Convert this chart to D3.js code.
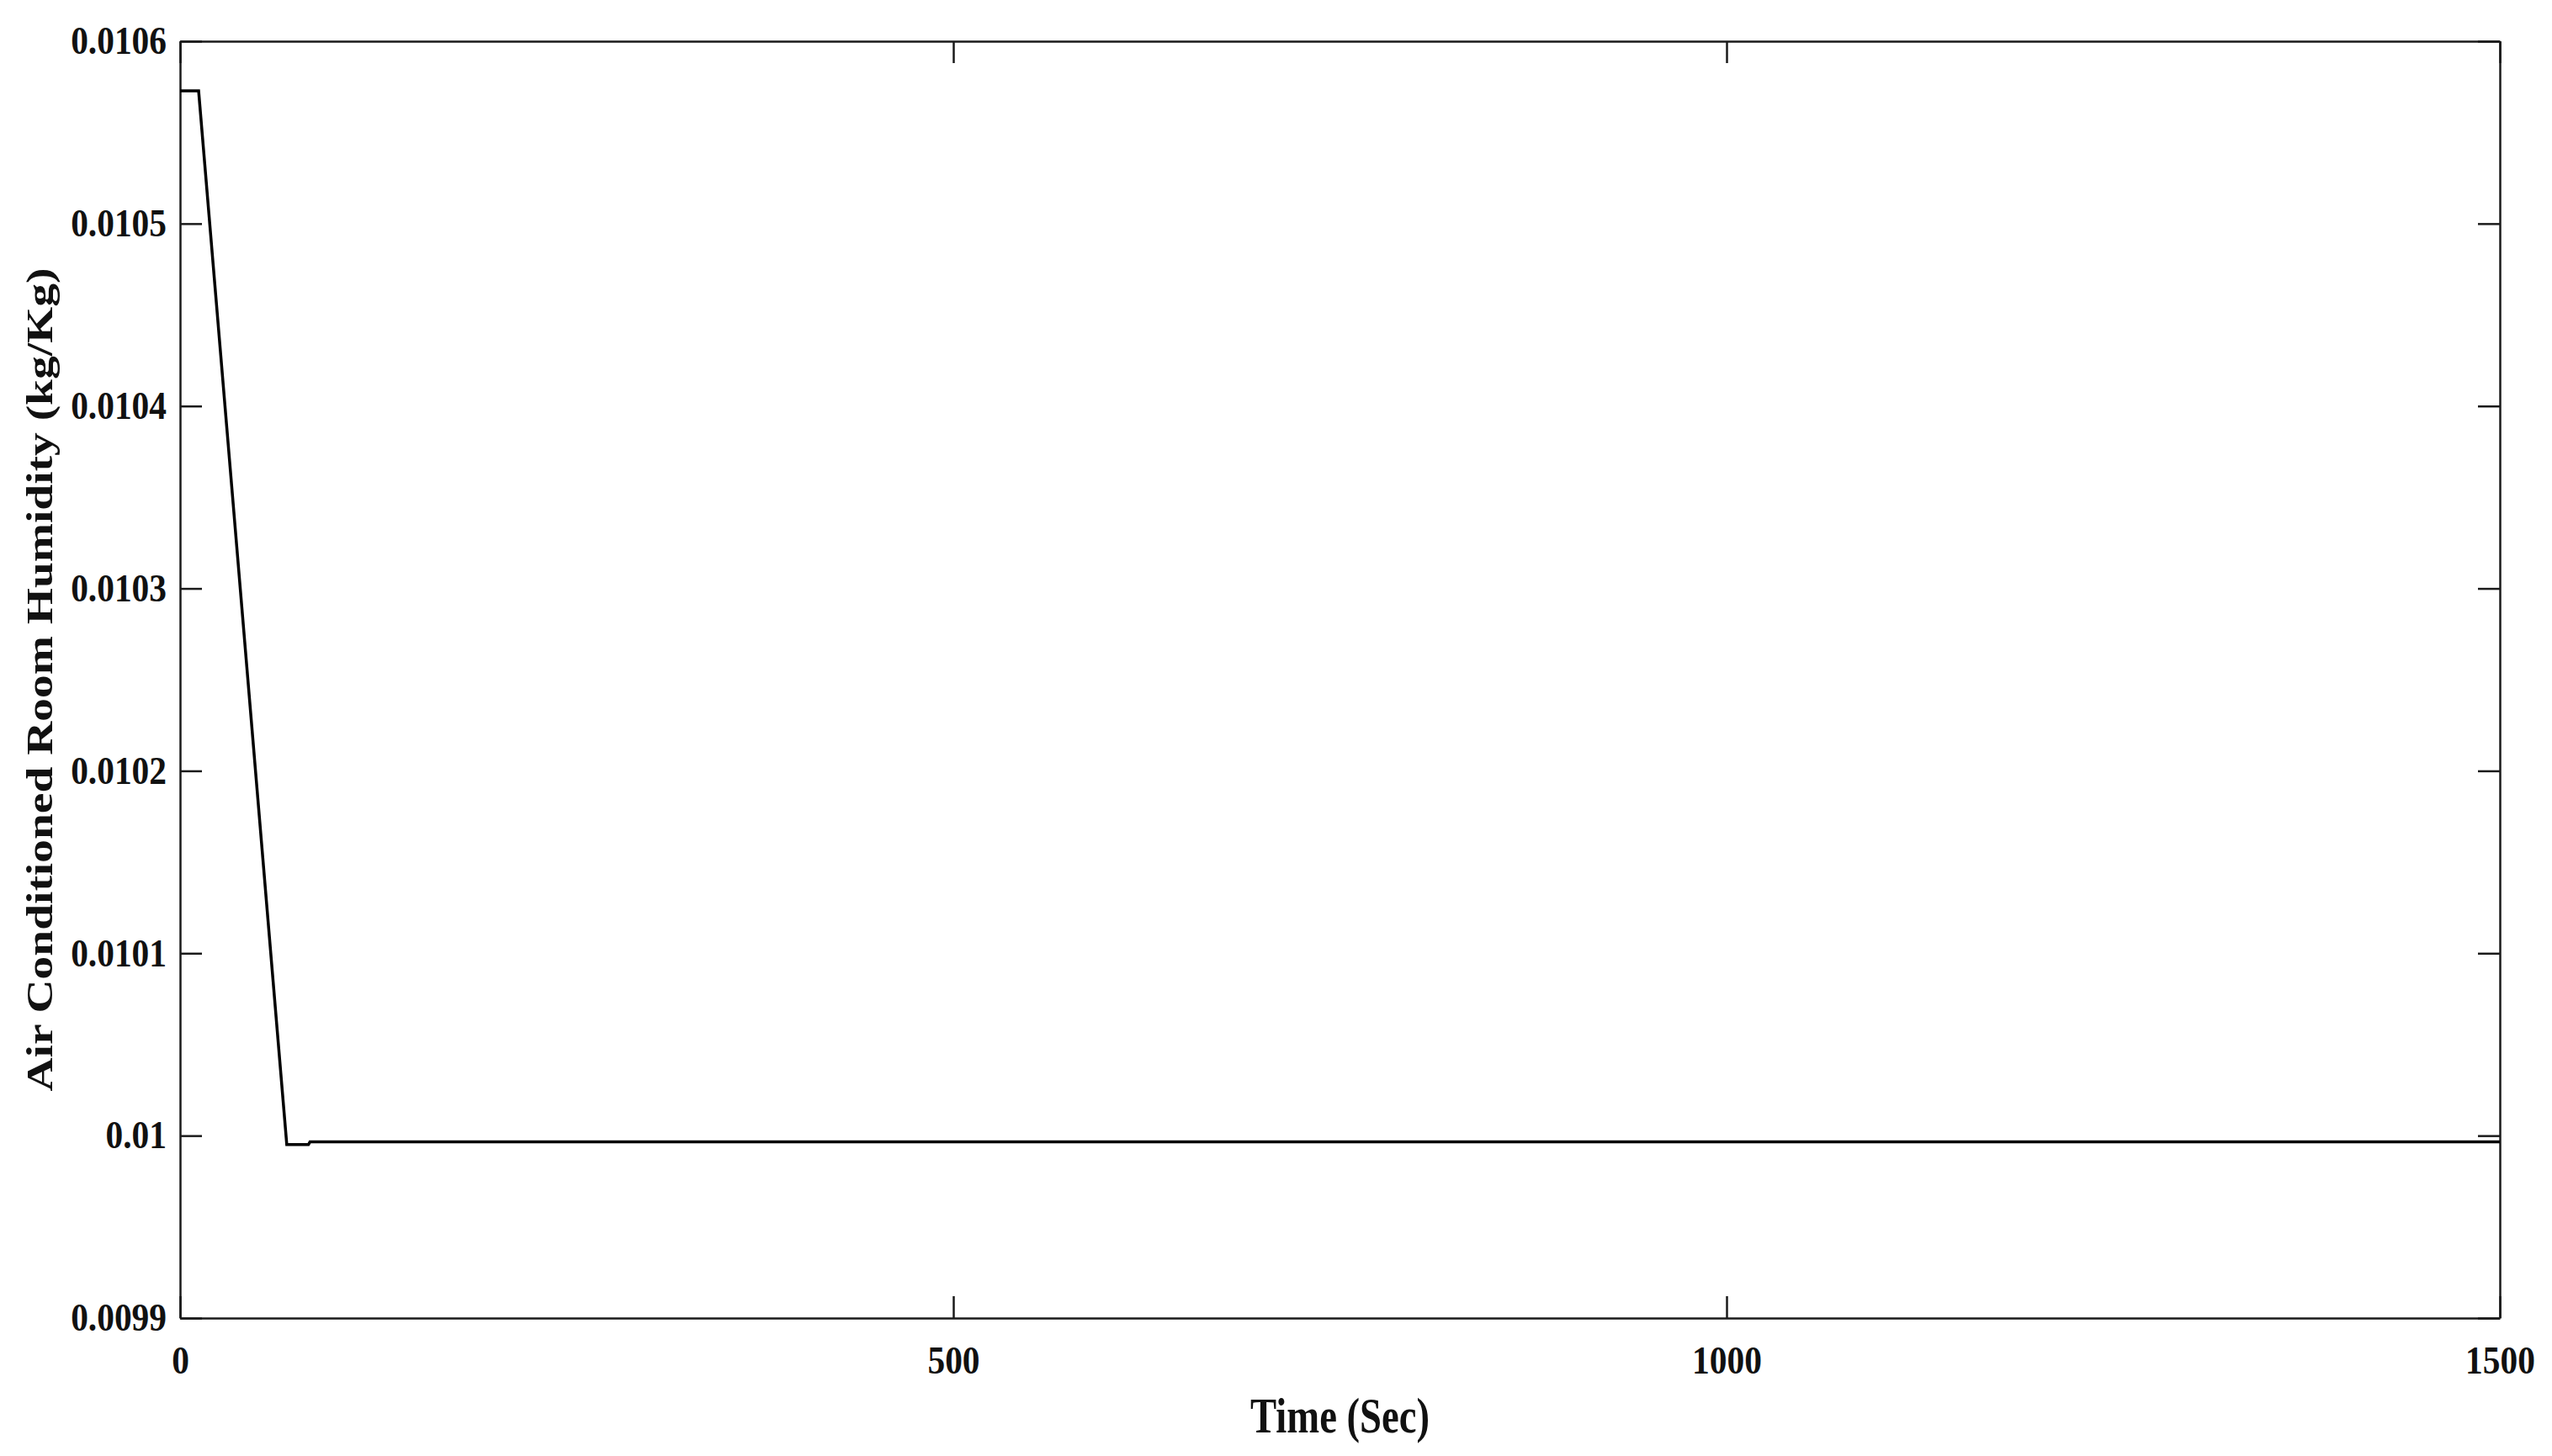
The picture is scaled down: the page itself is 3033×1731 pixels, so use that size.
<!DOCTYPE html>
<html>
<head>
<meta charset="utf-8">
<script src="https://cdn.jsdelivr.net/npm/d3@7"></script>
<style>
    body { margin: 0; background: #fff; }
    svg text { font-family: "Liberation Serif", "Times New Roman", serif; font-weight: bold; fill: #111; }
    .axis path, .axis line { stroke: #1a1a1a; stroke-width: 2.5; }
</style>
</head>
<body>
<div id="graph"></div>
<script>

// the data
let timeSec = [0, 12, 69, 83, 84, 1500];
let humidity = [0.0105728, 0.0105728, 0.0099951, 0.0099951, 0.0099966, 0.0099966];

// tick values
let xTicks = [0, 500, 1000, 1500];
let yTicks = [0.0099, 0.0100, 0.0101, 0.0102, 0.0103, 0.0104, 0.0105, 0.0106];

let xLabel = "Time (Sec)";
let yLabel = "Air Conditioned Room Humidity (kg/Kg)";

// graph stuff
var margin = {top: 49, right: 62, bottom: 164, left: 214},
    width = 3033 - margin.left - margin.right,
    height = 1731 - margin.top - margin.bottom;

var svg = d3.select("#graph")
    .append("svg")
    .attr("width", width + margin.left + margin.right)
    .attr("height", height + margin.top + margin.bottom)
    .append("g")
    .attr("transform", "translate(" + margin.left + "," + margin.top + ")");

// scales
var x = d3.scaleLinear()
    .domain([0, 1500])
    .range([0, width]);

var y = d3.scaleLinear()
    .domain([0.0099, 0.0106])
    .range([height, 0]);

let tickLen = 26;

// bottom axis with labels
svg.append("g")
    .attr("class", "axis xaxis")
    .attr("transform", "translate(0," + height + ")")
    .call(d3.axisBottom(x)
        .tickValues(xTicks)
        .tickSizeInner(-tickLen)
        .tickSizeOuter(0)
        .tickPadding(33)
        .tickFormat(d3.format("d")));

// left axis with labels
svg.append("g")
    .attr("class", "axis yaxis")
    .call(d3.axisLeft(y)
        .tickValues(yTicks)
        .tickSizeInner(-tickLen)
        .tickSizeOuter(0)
        .tickPadding(16)
        .tickFormat(function(d){ return String(+d.toFixed(4)); }));

// top and right just for the box and ticks
svg.append("g")
    .attr("class", "axis")
    .call(d3.axisTop(x)
        .tickValues(xTicks)
        .tickSizeInner(-tickLen)
        .tickSizeOuter(0)
        .tickFormat(""));

svg.append("g")
    .attr("class", "axis")
    .attr("transform", "translate(" + width + ",0)")
    .call(d3.axisRight(y)
        .tickValues(yTicks)
        .tickSizeInner(-tickLen)
        .tickSizeOuter(0)
        .tickFormat(""));

// tick label font, squeezed a bit like the picture
svg.selectAll(".xaxis text, .yaxis text")
    .style("font-size", "46px")
    .each(function() {
        let len = this.getComputedTextLength();
        d3.select(this)
            .attr("textLength", len * 0.9)
            .attr("lengthAdjust", "spacingAndGlyphs");
    });

// the line
let pts = timeSec.map(function(t, i){ return {t: t, h: humidity[i]}; });

svg.append("path")
    .datum(pts)
    .attr("fill", "none")
    .attr("stroke", "#000")
    .attr("stroke-width", 3.5)
    .attr("stroke-linejoin", "miter")
    .attr("d", d3.line()
        .x(function(d){ return x(d.t); })
        .y(function(d){ return y(d.h); }));

// x axis label, stretched to the picture's width
let xt = svg.append("text")
    .attr("text-anchor", "middle")
    .style("font-size", "60px")
    .text(xLabel);
let xs = 213 / xt.node().getComputedTextLength();
xt.attr("transform", "translate(" + (width / 2) + "," + (1703 - margin.top) + ") scale(" + xs + ",1)");

// y axis label, stretched along its length
let yt = svg.append("text")
    .attr("text-anchor", "middle")
    .style("font-size", "45px")
    .text(yLabel);
let ys = 979 / yt.node().getComputedTextLength();
yt.attr("transform", "translate(" + (62 - margin.left) + "," + (height / 2) + ") rotate(-90) scale(" + ys + ",1)");

</script>
</body>
</html>
